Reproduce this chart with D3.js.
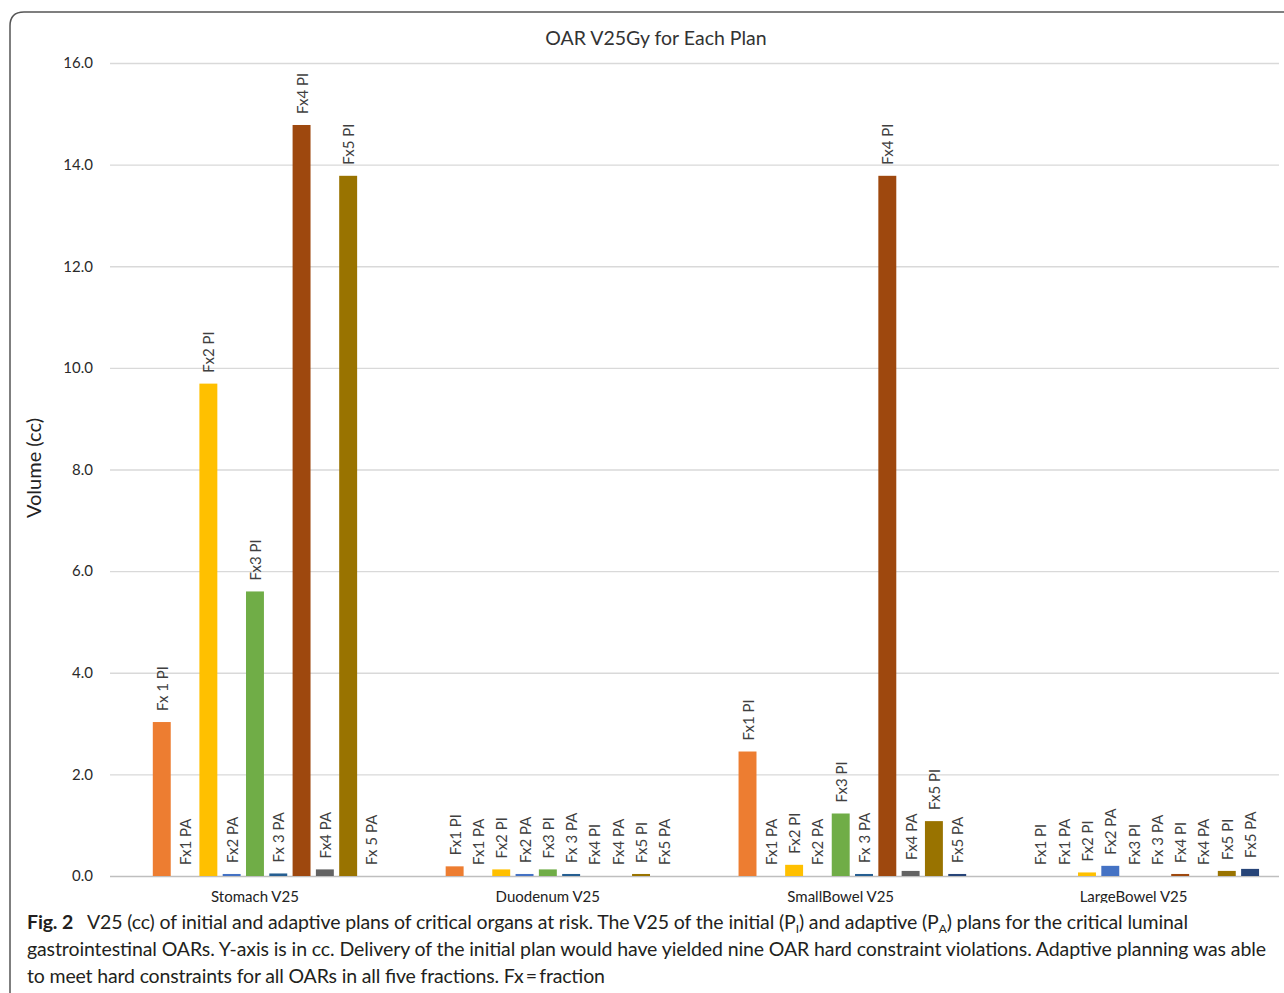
<!DOCTYPE html>
<html>
<head>
<meta charset="utf-8">
<script src="https://cdn.jsdelivr.net/npm/d3@7"></script>
<style>
  html, body { margin: 0; padding: 0; background: #fff; }
  svg { display: block; }
</style>
</head>
<body>
<svg id="chart" width="1284" height="993"></svg>
<script>
// ---------- data ----------
const categories = ["Stomach V25", "Duodenum V25", "SmallBowel V25", "LargeBowel V25"];
const series = ["Fx1 PI", "Fx1 PA", "Fx2 PI", "Fx2 PA", "Fx3 PI", "Fx3 PA", "Fx4 PI", "Fx4 PA", "Fx5 PI", "Fx5 PA"];
const seriesColors = ["#ED7D31", "#A5A5A5", "#FFC000", "#4472C4", "#70AD47", "#255E91", "#9E480E", "#636363", "#997300", "#264478"];

const stomachValues    = [3.03, 0, 9.69, 0.04, 5.60, 0.05, 14.78, 0.13, 13.78, 0];
const duodenumValues   = [0.19, 0, 0.13, 0.04, 0.13, 0.04, 0, 0, 0.04, 0];
const smallBowelValues = [2.45, 0, 0.22, 0, 1.23, 0.04, 13.78, 0.10, 1.08, 0.04];
const largeBowelValues = [0, 0, 0.07, 0.20, 0, 0, 0.04, 0, 0.10, 0.14];

const stomachLabels    = ["Fx 1 PI", "Fx1 PA", "Fx2 PI", "Fx2 PA", "Fx3 PI", "Fx 3 PA", "Fx4 PI", "Fx4 PA", "Fx5 PI", "Fx 5 PA"];
const duodenumLabels   = ["Fx1 PI", "Fx1 PA", "Fx2 PI", "Fx2 PA", "Fx3 PI", "Fx 3 PA", "Fx4 PI", "Fx4 PA", "Fx5 PI", "Fx5 PA"];
const smallBowelLabels = ["Fx1 PI", "Fx1 PA", "Fx2 PI", "Fx2 PA", "Fx3 PI", "Fx 3 PA", "Fx4 PI", "Fx4 PA", "Fx5 PI", "Fx5 PA"];
const largeBowelLabels = ["Fx1 PI", "Fx1 PA", "Fx2 PI", "Fx2 PA", "Fx3 PI", "Fx 3 PA", "Fx4 PI", "Fx4 PA", "Fx5 PI", "Fx5 PA"];

const yTicks = [0, 2, 4, 6, 8, 10, 12, 14, 16];

const chartTitle = "OAR V25Gy for Each Plan";
const yAxisTitle = "Volume (cc)";

// ---------- build table ----------
const valuesByCat = [stomachValues, duodenumValues, smallBowelValues, largeBowelValues];
const labelsByCat = [stomachLabels, duodenumLabels, smallBowelLabels, largeBowelLabels];
const rows = [];
categories.forEach((c, ci) => {
  series.forEach((s, si) => {
    rows.push({cat: c, series: s, value: valuesByCat[ci][si], label: labelsByCat[ci][si], color: seriesColors[si]});
  });
});

// ---------- layout ----------
const svg = d3.select("#chart");
const plotLeft = 110, plotRight = 1279, plotTop = 63, plotBottom = 876;
const textColor = "#404040";
const font = "Lato, 'Open Sans', sans-serif";

// frame
svg.append("path")
  .attr("d", "M10,1000 V26 Q10,12 24,12 H1300")
  .attr("fill", "none").attr("stroke", "#555").attr("stroke-width", 1.5);

const y = d3.scaleLinear().domain([0, 16]).range([plotBottom, plotTop]);
const x0 = d3.scaleBand().domain(categories).range([108.5, 1280]).padding(0);
const x1 = d3.scaleBand().domain(series).range([0, x0.bandwidth()])
  .paddingInner(0.23).paddingOuter(1.4).align(0.679);

// gridlines + tick labels
const yAxis = d3.axisLeft(y).tickValues(yTicks).tickFormat(d3.format(".1f"))
  .tickSize(-(plotRight - plotLeft)).tickPadding(17);
const gy = svg.append("g").attr("transform", `translate(${plotLeft},0)`).call(yAxis);
gy.select(".domain").remove();
gy.selectAll(".tick line").attr("stroke", d => d === 0 ? "#bfbfbf" : "#d9d9d9").attr("stroke-width", 1.3);
gy.selectAll(".tick text").attr("fill", "#2a2a2a").style("font-family", font).style("font-size", "15px");

// bars
const gBars = svg.append("g");
gBars.selectAll("rect").data(rows).join("rect")
  .attr("x", d => x0(d.cat) + x1(d.series))
  .attr("width", x1.bandwidth())
  .attr("y", d => y(d.value))
  .attr("height", d => y(0) - y(d.value))
  .attr("fill", d => d.color);

// data labels (rotated)
gBars.selectAll("text").data(rows).join("text")
  .attr("transform", d => `translate(${x0(d.cat) + x1(d.series) + x1.bandwidth() / 2},${y(d.value) - 11}) rotate(-90)`)
  .attr("text-anchor", "start")
  .attr("dominant-baseline", "central")
  .attr("fill", textColor)
  .style("font-family", font).style("font-size", "15px")
  .text(d => d.label);

// category axis labels
const xAxis = d3.axisBottom(x0).tickSize(0).tickPadding(15);
const gx = svg.append("g").attr("transform", `translate(0,${plotBottom})`).call(xAxis);
gx.select(".domain").remove();
gx.selectAll(".tick text").attr("fill", "#222").style("font-family", font).style("font-size", "15px");

// title
svg.append("text").attr("x", 656).attr("y", 45).attr("text-anchor", "middle")
  .attr("fill", "#333").style("font-family", font).style("font-size", "19.5px")
  .text(chartTitle);

// y axis title
svg.append("text").attr("transform", "translate(41,468) rotate(-90)").attr("text-anchor", "middle")
  .attr("fill", "#222").style("font-family", font).style("font-size", "20px")
  .text(yAxisTitle);

// caption area
svg.append("rect").attr("x", 11).attr("y", 903).attr("width", 1280).attr("height", 100).attr("fill", "#fff");
const capFont = "Lato, 'Open Sans', sans-serif";
const cap1 = svg.append("text").attr("x", 27).attr("y", 929).attr("fill", "#231f20")
  .style("font-family", capFont).style("font-size", "19.5px")
  .attr("textLength", 1161).attr("lengthAdjust", "spacing");
cap1.append("tspan").style("font-weight", "700").text("Fig. 2");
cap1.append("tspan").text("\u2002 V25 (cc) of initial and adaptive plans of critical organs at risk. The V25 of the initial (P");
cap1.append("tspan").attr("dy", 4).style("font-size", "12px").text("I");
cap1.append("tspan").attr("dy", -4).text(") and adaptive (P");
cap1.append("tspan").attr("dy", 4).style("font-size", "12px").text("A");
cap1.append("tspan").attr("dy", -4).text(") plans for the critical luminal");

svg.append("text").attr("x", 27).attr("y", 956).attr("fill", "#231f20")
  .style("font-family", capFont).style("font-size", "19.5px")
  .attr("textLength", 1239).attr("lengthAdjust", "spacing")
  .text("gastrointestinal OARs. Y-axis is in cc. Delivery of the initial plan would have yielded nine OAR hard constraint violations. Adaptive planning was able");

svg.append("text").attr("x", 27).attr("y", 983).attr("fill", "#231f20")
  .style("font-family", capFont).style("font-size", "19.5px")
  .attr("textLength", 578).attr("lengthAdjust", "spacing")
  .text("to meet hard constraints for all OARs in all five fractions. Fx\u2009=\u2009fraction");
</script>
</body>
</html>
